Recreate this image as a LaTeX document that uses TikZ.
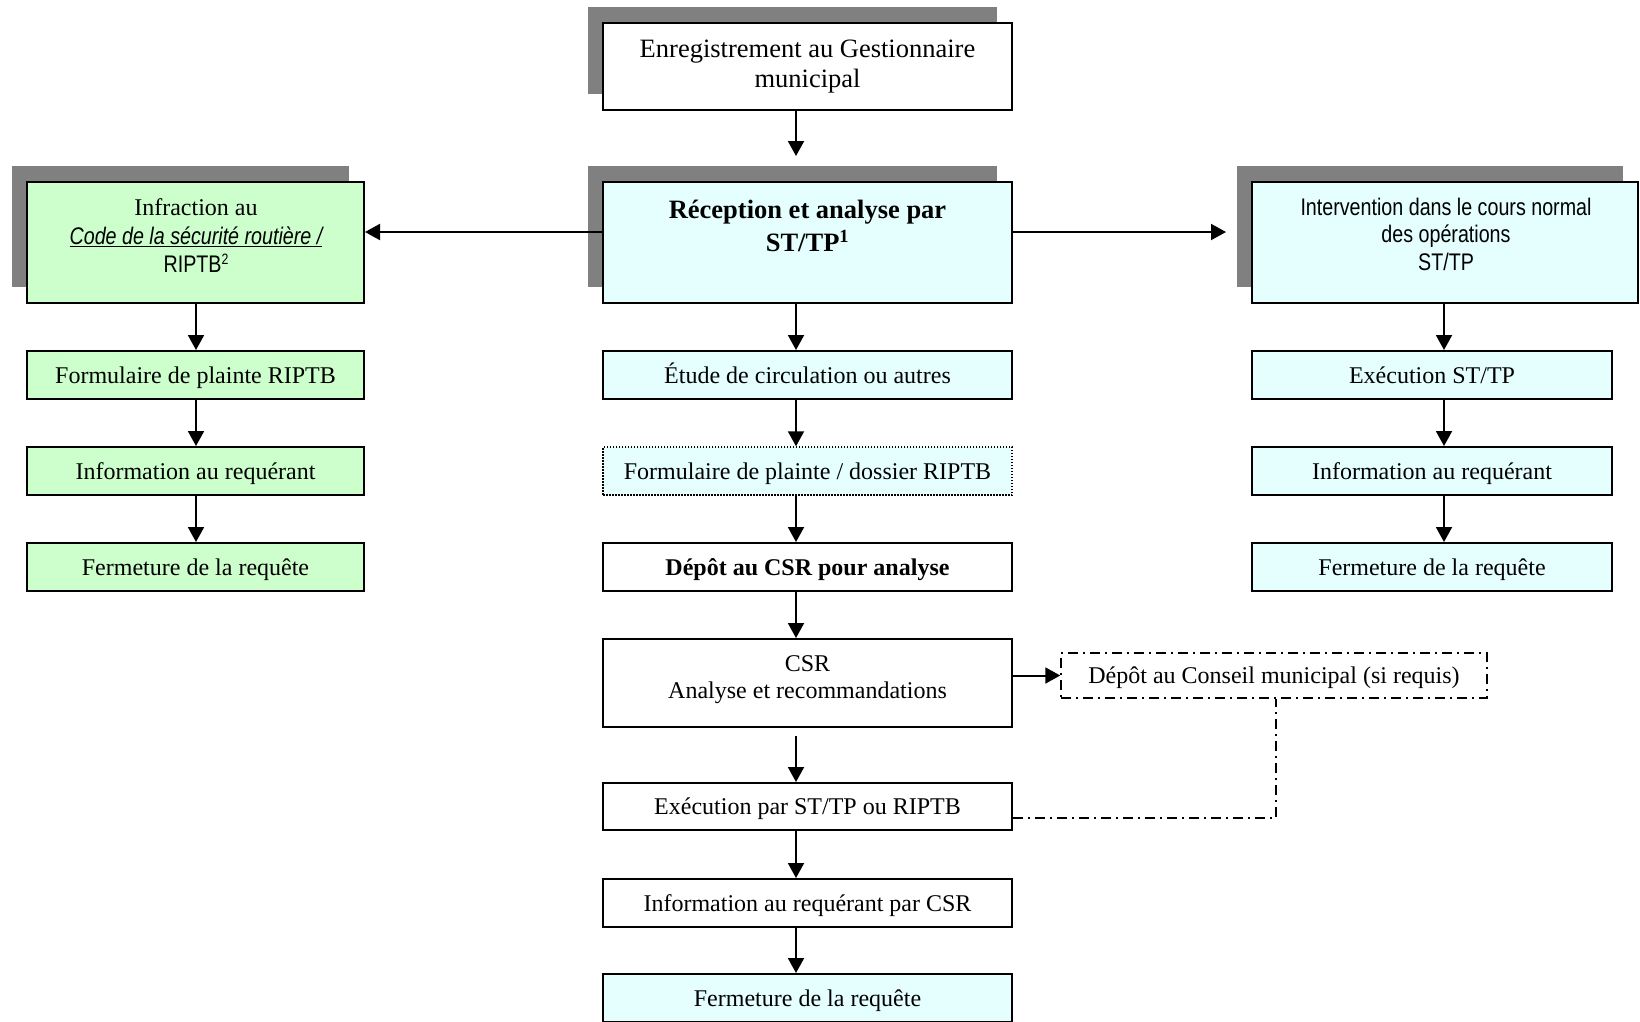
\documentclass[tikz,border=0pt]{standalone}
\usepackage{fontspec}
\setmainfont{Liberation Serif}
\newfontfamily\narrowsans[FakeStretch=0.82]{Liberation Sans}
\usetikzlibrary{arrows.meta,calc}
\definecolor{shadowgray}{HTML}{808080}
\definecolor{boxgreen}{HTML}{CCFFCC}
\definecolor{boxcyan}{HTML}{E5FFFF}
\tikzset{
  box/.style={draw=black, line width=2pt, inner sep=0pt, align=center,
    font=\fontsize{24}{27}\selectfont},
  onebox/.style={box, text height=18pt, text depth=2pt},
  txt/.style={inner sep=0pt, align=center},
  arr/.style={line width=2pt, -{Triangle[length=15pt,width=16pt]}},
  dashdot/.style={line width=1.5pt, dash pattern=on 10pt off 5pt on 2pt off 5pt},
  dotbox/.style={line width=1.5pt, dash pattern=on 1.5pt off 1.5pt},
}
\newcommand{\dropshadow}[1]{\fill[shadowgray] ([shift={(-15,-16)}]#1.south west) rectangle ([shift={(-15,-16)}]#1.north east);}
\begin{document}
\begin{tikzpicture}[x=1pt,y=-1pt]
\path[fill=white, use as bounding box] (0,0) rectangle (1640,1021);

% column coordinates
\coordinate (cx) at (796,0);
\coordinate (lx) at (196,0);
\coordinate (rx) at (1444,0);
\coordinate (hy) at (0,232);
\coordinate (dd) at (1276,818);

% shadows drawn first via placeholder nodes
\path node[minimum width=409pt, minimum height=87pt, inner sep=0pt] (topS) at (807.5,66.5) {}
      node[minimum width=409pt, minimum height=121pt, inner sep=0pt] (recepS) at (807.5,242.5) {}
      node[minimum width=337pt, minimum height=121pt, inner sep=0pt] (infrS) at (195.5,242.5) {}
      node[minimum width=386pt, minimum height=121pt, inner sep=0pt] (intervS) at (1445,242.5) {};
\dropshadow{topS}
\dropshadow{recepS}
\dropshadow{infrS}
\dropshadow{intervS}

% top row
\node[box, fill=white, minimum width=409pt, minimum height=87pt, font=\fontsize{26.5}{30}\selectfont] (top) at (807.5,66.5)
  {Enregistrement au Gestionnaire\\municipal};
\node[box, fill=boxcyan, minimum width=409pt, minimum height=121pt] (recep) at (807.5,242.5) {};
\node[txt, font=\fontsize{26.5}{33}\selectfont\bfseries] (recepT) at (807.5,226)
  {Réception et analyse par\\ST/TP\textsuperscript{1}};
\node[box, fill=boxgreen, minimum width=337pt, minimum height=121pt] (infr) at (195.5,242.5) {};
\node[txt, font=\fontsize{24}{28.5}\selectfont] (infrT) at (196,236)
  {Infraction au\\{\narrowsans\itshape\underline{Code de la sécurité routière /}}\\{\narrowsans RIPTB\raisebox{0.35em}{\fontsize{15}{15}\selectfont 2}}};
\node[box, fill=boxcyan, minimum width=386pt, minimum height=121pt] (interv) at (1445,242.5) {};
\node[txt, font=\fontsize{24}{27.5}\narrowsans] (intervT) at (1446,234)
  {Intervention dans le cours normal\\des opérations\\ST/TP};

% left column
\node[onebox, fill=boxgreen, minimum width=337pt, minimum height=48pt] (l1) at (195.5,375) {Formulaire de plainte RIPTB};
\node[onebox, fill=boxgreen, minimum width=337pt, minimum height=48pt] (l2) at (195.5,471) {Information au requérant};
\node[onebox, fill=boxgreen, minimum width=337pt, minimum height=48pt] (l3) at (195.5,567) {Fermeture de la requête};

% centre column
\node[onebox, fill=boxcyan, minimum width=409pt, minimum height=48pt] (c1) at (807.5,375) {Étude de circulation ou autres};
\node[onebox, dotbox, fill=boxcyan, minimum width=409pt, minimum height=48pt] (c2) at (807.5,471) {Formulaire de plainte / dossier RIPTB};
\node[onebox, fill=white, minimum width=409pt, minimum height=48pt, font=\fontsize{24}{27}\selectfont\bfseries] (c3) at (807.5,567) {Dépôt au CSR pour analyse};
\node[box, fill=white, minimum width=409pt, minimum height=88pt] (csr) at (807.5,683) {};
\node[txt, font=\fontsize{24}{27}\selectfont] (csrT) at (807.5,680) {CSR\\Analyse et recommandations};
\node[onebox, fill=white, minimum width=409pt, minimum height=47pt] (c5) at (807.5,806.5) {Exécution par ST/TP ou RIPTB};
\node[onebox, fill=white, minimum width=409pt, minimum height=48pt] (c6) at (807.5,903) {Information au requérant par CSR};
\node[onebox, fill=boxcyan, minimum width=409pt, minimum height=48pt] (c7) at (807.5,998) {Fermeture de la requête};

% right column
\node[onebox, fill=boxcyan, minimum width=360pt, minimum height=48pt] (r1) at (1432,375) {Exécution ST/TP};
\node[onebox, fill=boxcyan, minimum width=360pt, minimum height=48pt] (r2) at (1432,471) {Information au requérant};
\node[onebox, fill=boxcyan, minimum width=360pt, minimum height=48pt] (r3) at (1432,567) {Fermeture de la requête};

% conseil
\node[onebox, dashdot, fill=white, minimum width=426pt, minimum height=45pt] (cons) at (1274,675.5) {Dépôt au Conseil municipal (si requis)};

% arrows centre
\draw[arr, shorten >=25pt] (top.south -| cx) -- (recep.north -| cx);
\draw[arr] (recep.south -| cx) -- (c1.north -| cx);
\draw[arr] (c1.south -| cx) -- (c2.north -| cx);
\draw[arr] (c2.south -| cx) -- (c3.north -| cx);
\draw[arr] (c3.south -| cx) -- (csr.north -| cx);
\draw[arr, shorten <=8pt] (csr.south -| cx) -- (c5.north -| cx);
\draw[arr] (c5.south -| cx) -- (c6.north -| cx);
\draw[arr] (c6.south -| cx) -- (c7.north -| cx);
% horizontal
\draw[arr] (recep.west |- hy) -- (infr.east |- hy);
\draw[arr, shorten >=25pt] (recep.east |- hy) -- (interv.west |- hy);
\draw[arr] (csr.east |- cons.west) -- (cons.west);
% left column
\draw[arr] (infr.south -| lx) -- (l1.north -| lx);
\draw[arr] (l1.south -| lx) -- (l2.north -| lx);
\draw[arr] (l2.south -| lx) -- (l3.north -| lx);
% right column
\draw[arr] (interv.south -| rx) -- (r1.north -| rx);
\draw[arr] (r1.south -| rx) -- (r2.north -| rx);
\draw[arr] (r2.south -| rx) -- (r3.north -| rx);
% dash-dot link
\draw[dashdot] (c5.east |- dd) -- (dd) -- (cons.south -| dd);
\end{tikzpicture}
\end{document}
